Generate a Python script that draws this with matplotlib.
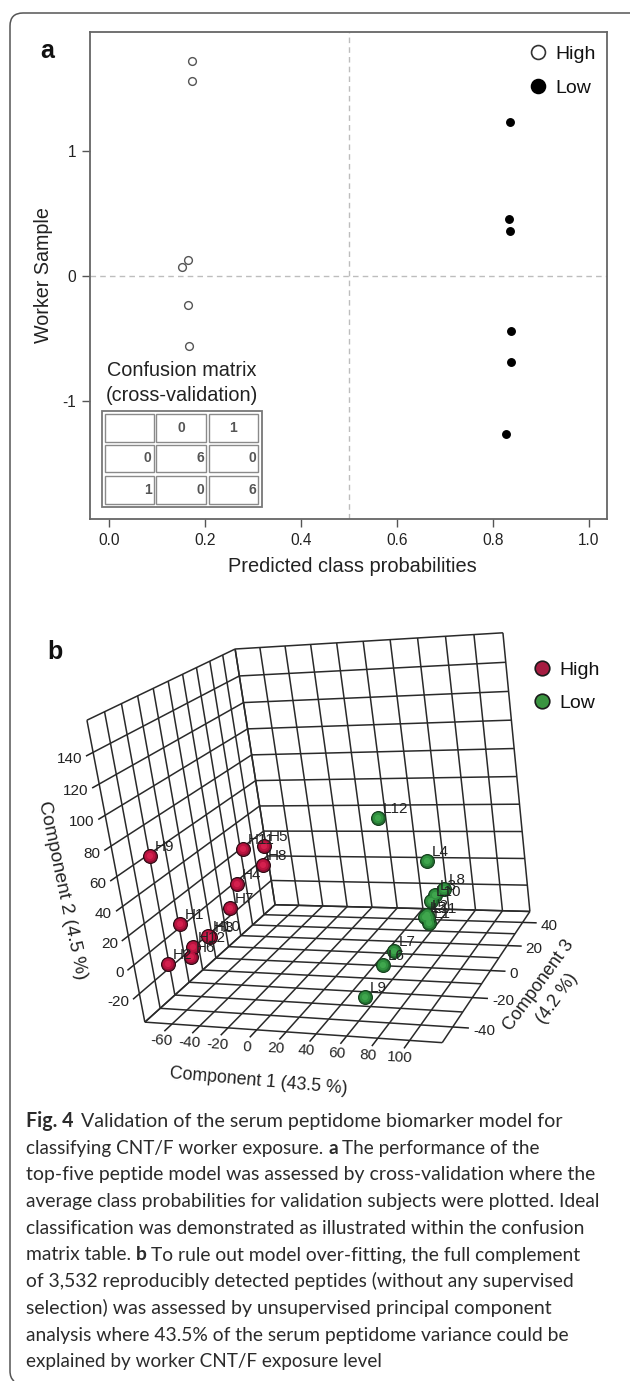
import numpy as np
import matplotlib
matplotlib.use('Agg')
import matplotlib.pyplot as plt
from matplotlib.lines import Line2D
from matplotlib.patches import PathPatch, Rectangle
from matplotlib.path import Path

plt.rcParams['font.family'] = ['Liberation Sans', 'DejaVu Sans']

# ---------- panel a data ----------
high_prob = [0.173, 0.173, 0.165, 0.152, 0.165, 0.167]
high_sample = [1.72, 1.56, 0.125, 0.07, -0.235, -0.56]
low_prob = [0.835, 0.833, 0.835, 0.838, 0.838, 0.827]
low_sample = [1.23, 0.46, 0.36, -0.44, -0.69, -1.265]
a_xticks = [0.0, 0.2, 0.4, 0.6, 0.8, 1.0]
a_yticks = [-1, 0, 1]
conf_rows = [["", "0", "1"], ["0", "6", "0"], ["1", "0", "6"]]

# ---------- panel b data ----------
h_names = ["H1", "H2", "H3", "H4", "H5", "H6", "H7", "H8", "H9", "H10", "H11", "H12"]
h_c1 = [-65] * 12
h_c2 = [12.6, -5.6, -11.3, 8.4, 19.3, -13.5, -3.6, 6.8, 67.2, -9.5, 28.6, -8.3]
h_c3 = [-31.0, -42.2, -13.9, 10.1, 34.4, -28.0, 2.5, 31.4, -41.2, -15.1, 18.5, -25.7]
l_names = ["L1", "L2", "L3", "L4", "L5", "L6", "L7", "L8", "L9", "L10", "L11", "L12"]
l_c1 = [70] * 12
l_c2 = [-21.5, -14.9, -8.2, 19.4, -14.7, -13.4, -12.9, -11.2, -19.4, -9.0, -17.6, 75.2]
l_c3 = [15.6, 14.7, 24.4, 20.7, 12.6, -27.6, -17.5, 33.8, -44.1, 19.9, 15.2, -16.5]
c1_ticks = [-60, -40, -20, 0, 20, 40, 60, 80, 100]
c2_ticks = [-20, 0, 20, 40, 60, 80, 100, 120, 140]
c3_ticks = [-40, -20, 0, 20, 40]
c1_grid = list(range(-80, 121, 20))
c2_grid = list(range(-40, 161, 20))
c3_grid = list(range(-50, 51, 10))

caption = [
    [("Fig. 4", True), ("Validation of the serum peptidome biomarker model for", False)],
    [("classifying CNT/F worker exposure.", False), ("a", True), ("The performance of the", False)],
    [("top-five peptide model was assessed by cross-validation where the", False)],
    [("average class probabilities for validation subjects were plotted. Ideal", False)],
    [("classification was demonstrated as illustrated within the confusion", False)],
    [("matrix table.", False), ("b", True), ("To rule out model over-fitting, the full complement", False)],
    [("of 3,532 reproducibly detected peptides (without any supervised", False)],
    [("selection) was assessed by unsupervised principal component", False)],
    [("analysis where 43.5% of the serum peptidome variance could be", False)],
    [("explained by worker CNT/F exposure level", False)],
]
caption_right = [563, 540, 594, 600, 587, 584, 575, 554, 572, 382]

W, H = 630, 1381
fig = plt.figure(figsize=(W / 100, H / 100), dpi=100, facecolor='white')

# full-figure canvas in image pixels
cv = fig.add_axes([0, 0, 1, 1], zorder=0)
cv.set_xlim(0, W)
cv.set_ylim(H, 0)
cv.axis('off')

# outer rounded frame
frame = Path([(14, 1381), (10, 1378), (10, 1371), (10, 26), (10, 13), (23, 13), (630, 13)],
             [Path.MOVETO, Path.CURVE3, Path.CURVE3, Path.LINETO, Path.CURVE3, Path.CURVE3, Path.LINETO])
cv.add_patch(PathPatch(frame, fc='none', ec='#555555', lw=1.1))

# ---------- panel a ----------
L, R, T, B = 90, 607, 32, 519
ax = fig.add_axes([L / W, 1 - B / H, (R - L) / W, (B - T) / H], zorder=1)
ax.patch.set_alpha(0)
ax.set_xlim((L - 109) / 480, (R - 109) / 480)
ax.set_ylim((276 - B) / 125, (276 - T) / 125)
ax.axhline(0, color='#bdbdbd', lw=1.0, ls=(0, (4, 3)))
ax.axvline(0.5, color='#bdbdbd', lw=1.0, ls=(0, (4, 3)))
ax.plot(high_prob, high_sample, 'o', ms=5.6, mfc='white', mec='#555555', mew=1.0, ls='none', label='High')
ax.plot(low_prob, low_sample, 'o', ms=5.4, mfc='black', mec='black', ls='none', label='Low')
ax.set_xticks(a_xticks)
ax.set_xticklabels([f"{v:.1f}" for v in a_xticks])
ax.set_yticks(a_yticks)
ax.set_yticklabels([str(v) for v in a_yticks])
ax.tick_params(length=6, width=1.0, color='#555555', labelsize=11.2, labelcolor='#222222', pad=4)
for s in ax.spines.values():
    s.set_color('#666666')
    s.set_linewidth(1.3)
ax.set_xlabel("Predicted class probabilities", fontsize=14.4, color='#222222')
ax.xaxis.set_label_coords((352 - L) / (R - L), 1 - (557 - T) / (B - T))
ax.set_ylabel("Worker Sample", fontsize=14.2, color='#222222')
ax.yaxis.set_label_coords((53 - L) / (R - L), 1 - (275 - T) / (B - T))
h1 = [Line2D([], [], marker='o', ls='none', ms=10, mfc='white', mec='#333333', mew=1.2),
      Line2D([], [], marker='o', ls='none', ms=10, mfc='black', mec='black', mew=1.2)]
ax.legend(h1, ['High', 'Low'], loc='center left', bbox_to_anchor=(528, 71),
          bbox_transform=cv.transData, frameon=False, fontsize=14, handlelength=1,
          handletextpad=0.4, borderpad=0, borderaxespad=0, labelspacing=0.85, labelcolor='#111111')

cv.text(47, 58, "a", fontsize=18, fontweight='bold', ha='center', va='baseline', color='#111111')
cv.text(182, 370, "Confusion matrix", fontsize=14.3, ha='center', va='center', color='#222222', zorder=5)
cv.text(182, 395, "(cross-validation)", fontsize=14.3, ha='center', va='center', color='#222222', zorder=5)

# confusion table
col_edges = [(105, 153.5), (156, 206), (208.5, 258)]
row_edges = [(413.5, 441.5), (444.5, 472), (476, 503.5)]
cv.add_patch(Rectangle((101.5, 410.5), 160, 96.5, fc='none', ec='#777777', lw=1.3))
for i, (y0, y1) in enumerate(row_edges):
    for j, (x0, x1) in enumerate(col_edges):
        cv.add_patch(Rectangle((x0, y0), x1 - x0, y1 - y0, fc='white', ec='#8a8a8a', lw=1.0))
        s = conf_rows[i][j]
        if i == 0:
            cv.text(x0 + [0, 25, 25][j], (y0 + y1) / 2, s, ha='center', va='center',
                    fontsize=10, fontweight='bold', color='#555555')
        else:
            cv.text(x1 - 2, (y0 + y1) / 2, s, ha='right', va='center',
                    fontsize=10, fontweight='bold', color='#555555')

# ---------- panel b: perspective projection fitted to the box corners ----------
corners = [((-80, -40, -50), (145, 1022)), ((120, -40, -50), (442, 1043)), ((120, -40, 50), (530, 911)),
           ((-80, -40, 50), (275, 905)), ((-80, 160, -50), (87, 720)), ((-80, 160, 50), (235, 649)),
           ((120, 160, 50), (503, 633))]
A = []
for (X, Y, Z), (u, v) in corners:
    A.append([X, Y, Z, 1, 0, 0, 0, 0, -u * X, -u * Y, -u * Z, -u])
    A.append([0, 0, 0, 0, X, Y, Z, 1, -v * X, -v * Y, -v * Z, -v])
PM = np.linalg.svd(np.array(A, float))[2][-1].reshape(3, 4)


def proj(x, y, z):
    p = PM @ np.array([x, y, z, 1.0])
    return p[0] / p[2], p[1] / p[2]


def seg(a, b, **kw):
    pa, pb = proj(*a), proj(*b)
    cv.plot([pa[0], pb[0]], [pa[1], pb[1]], solid_capstyle='butt', **kw)


gk = dict(color='#2a2a2a', lw=1.1, zorder=1)
x0, x1, y0, y1, z0, z1 = -80, 120, -40, 160, -50, 50
for x in c1_grid:
    seg((x, y0, z1), (x, y1, z1), **gk)   # back wall
    seg((x, y0, z0), (x, y0, z1), **gk)   # floor
for y in c2_grid:
    seg((x0, y, z1), (x1, y, z1), **gk)
    seg((x0, y, z0), (x0, y, z1), **gk)   # left wall
for z in c3_grid:
    seg((x0, y0, z), (x0, y1, z), **gk)
    seg((x0, y0, z), (x1, y0, z), **gk)

tk = dict(color='#222222', lw=1.1, zorder=1)
tf = dict(fontsize=11, color='#222222', va='center')
for v in c1_ticks:
    seg((v, y0, z0), (v, y0, z0 - 5), **tk)
    px, py = proj(v, y0, z0)
    cv.text(px - 10, py + 17, str(v), ha='center', rotation=-3, **tf)
for v in c2_ticks:
    seg((x0, v, z0), (x0, v, z0 - 4), **tk)
    px, py = proj(x0, v, z0 - 4)
    cv.text(px - 4, py + 3, str(v), ha='right', **tf)
for v in c3_ticks:
    seg((x1, y0, v), (x1 + 10, y0, v), **tk)
    px, py = proj(x1 + 10, y0, v)
    cv.text(px + 4, py + 3, str(v), ha='left', **tf)

cv.text(259, 1081, "Component 1 (43.5 %)", fontsize=12.8, rotation=-5, ha='center', va='center', color='#222222')
cv.text(62, 890, "Component 2 (4.5 %)", fontsize=13.8, rotation=-78, ha='center', va='center', color='#222222')
cv.text(548, 992, "Component 3\n(4.2 %)", fontsize=13, rotation=54, ha='center', va='center',
        rotation_mode='anchor', color='#222222', linespacing=1.4)


def spheres(cs1, cs2, cs3, names, shades):
    pts = np.array([proj(a, b, c) for a, b, c in zip(cs1, cs2, cs3)])
    for size, col, ec in shades:
        cv.scatter(pts[:, 0], pts[:, 1], s=size, c=col, edgecolors=ec, linewidths=0.8 if ec != 'none' else 0, zorder=3)
    for (px, py), n in zip(pts, names):
        cv.text(px + 5, py - 9, n, fontsize=11, ha='left', va='center', color='#222222', zorder=4)


spheres(h_c1, h_c2, h_c3, h_names, [(100, '#8f0f33', '#2a0a12'), (58, '#bb1440', 'none'), (20, '#d4204e', 'none')])
spheres(l_c1, l_c2, l_c3, l_names, [(100, '#226f30', '#14401c'), (58, '#30913f', 'none'), (20, '#3fa64d', 'none')])

h2 = [Line2D([], [], marker='o', ls='none', ms=10.5, mfc='#a51c41', mec='#1a1a1a', mew=1.2),
      Line2D([], [], marker='o', ls='none', ms=10.5, mfc='#3a9440', mec='#1a1a1a', mew=1.2)]
cv.legend(h2, ['High', 'Low'], loc='center left', bbox_to_anchor=(532, 686.5),
          bbox_transform=cv.transData, frameon=False, fontsize=14, handlelength=1,
          handletextpad=0.4, borderpad=0, borderaxespad=0, labelspacing=0.8, labelcolor='#111111')
cv.text(55, 659, "b", fontsize=18, fontweight='bold', ha='center', va='baseline', color='#111111')

# ---------- caption ----------
rend = fig.canvas.get_renderer()
base = 12.4
for k, (runs, right) in enumerate(zip(caption, caption_right)):
    yb = 1127 + 26.7 * k
    gap = 7 if len(runs) == 2 else 4.5
    size = base
    for attempt in range(2):
        xp = 26.5
        arts = []
        for t, bold in runs:
            a = cv.text(xp, yb, t, fontsize=size, family=['Lato', 'DejaVu Sans'],
                        fontweight='bold' if bold else 'normal', color='#2b2b2b', va='baseline', ha='left')
            arts.append(a)
            xp = a.get_window_extent(rend).x1 + gap
        end = arts[-1].get_window_extent(rend).x1
        if attempt == 0:
            size = size * (right - 26.5) / (end - 26.5)
            for a in arts:
                a.remove()

fig.savefig('out.png', dpi=100, facecolor='white')
